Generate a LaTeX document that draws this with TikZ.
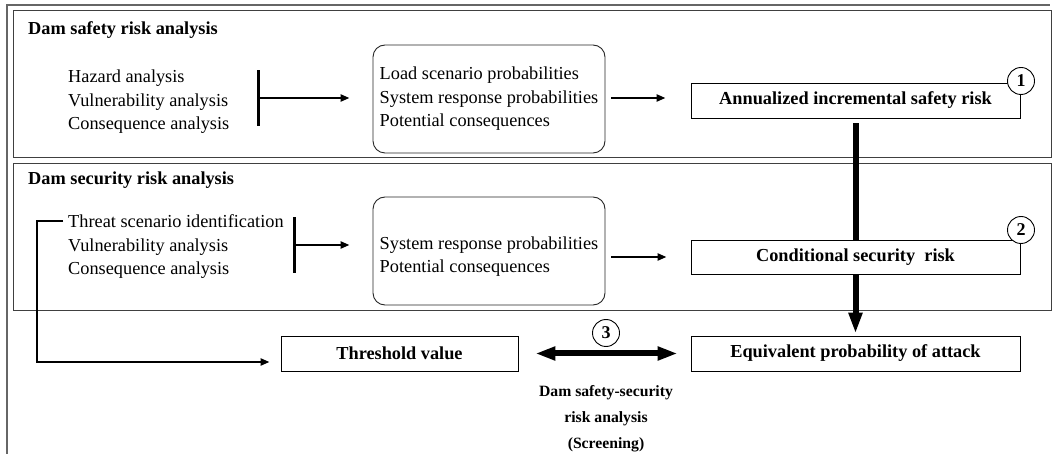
\documentclass[tikz,border=0pt]{standalone}
\usepackage{fontspec}
\setmainfont{Liberation Serif}
\usetikzlibrary{arrows.meta,calc}

\tikzset{
  txt/.style={inner sep=0pt, align=left, font=\fontsize{18.3}{23.5}\selectfont},
  title/.style={inner sep=0pt, anchor=base west, font=\fontsize{18.3}{22}\selectfont\bfseries},
  rbox/.style={draw=black!85, line width=0.9pt, rounded corners=12pt, align=left,
    minimum width=232pt, minimum height=108pt, inner sep=0pt,
    font=\fontsize{18.3}{23.5}\selectfont},
  rbx/.style={draw=black, line width=0.9pt, inner sep=0pt,
    font=\fontsize{18.3}{22}\selectfont\bfseries},
  num/.style={draw=black, line width=0.9pt, fill=white, circle, inner sep=0pt,
    minimum size=27pt, font=\fontsize{18}{20}\selectfont\bfseries},
  bar/.style={fill=black, inner sep=0pt, minimum width=3pt},
  arr/.style={line width=2.4pt, -{Triangle[length=9pt,width=7pt]}},
  thick arr/.style={line width=6pt, -{Triangle[length=21pt,width=13pt]}},
  dbl arr/.style={line width=6pt, {Triangle[length=20pt,width=13pt]}-{Triangle[length=20pt,width=13pt]}},
  frame/.style={draw=black!75, line width=1pt}
}

\begin{document}
\begin{tikzpicture}[x=1pt,y=-1pt]
\useasboundingbox (0,0) rectangle (1053,454);

% outer frame (top and left edges)
\draw[line width=1.6pt, black!60] (7,454) -- (7,5) -- (1050,5);

% section frames
\draw[frame] (13,11) rectangle (1051,158);
\draw[frame] (13,164) rectangle (1051,311);

% ---- safety section (multi-line nodes are anchored on their last baseline)
\node[title] (st) at (28,34.5) {Dam safety risk analysis};
\node[txt, anchor=base west] (slist) at (68,130)
  {Hazard analysis\\Vulnerability analysis\\Consequence analysis};
\node[bar, minimum height=56pt] (sbar) at (258,98) {};
\node[rbox] (lsp) at (489,99)
  {Load scenario probabilities\\System response probabilities\\Potential consequences};
\node[rbx, minimum width=329pt, minimum height=35pt] (ann) at (855.5,100.5)
  {Annualized incremental safety risk};
\node[num] (c1) at (1021,81) {1};

\draw[arr, shorten >=23pt] (sbar.center) -- (sbar.center -| lsp.west);
\draw[arr, shorten <=6pt, shorten >=25pt] (lsp.east |- sbar.center) -- (ann.west |- sbar.center);

% ---- security section
\node[title] (xt) at (28,185) {Dam security risk analysis};
\node[txt, anchor=base west] (xlist) at (68,275)
  {Threat scenario identification\\Vulnerability analysis\\Consequence analysis};
\node[bar, minimum height=56pt] (xbar) at (294,245) {};
\node[rbox] (rsp) at (489,251)
  {\mbox{}\\System response probabilities\\Potential consequences};
\node[rbx, minimum width=329pt, minimum height=34pt] (cond) at (855.5,257)
  {Conditional security\ \ risk};
\node[num] (c2) at (1021,230) {2};

\draw[arr, shorten >=23pt] (xbar.center) -- (xbar.center -| rsp.west);
\draw[arr, shorten <=6pt, shorten >=24pt] (rsp.east |- cond.west) -- (cond.west);

% ---- screening row
\node[rbx, minimum width=237pt, minimum height=35pt] (thr) at (399.5,353.5) {Threshold value};
\node[rbx, minimum width=329pt, minimum height=35pt] (eq) at (855.5,353.5)
  {Equivalent probability of attack};
\node[num] (c3) at (606,333) {3};
\node[inner sep=0pt, anchor=base, align=center,
      font=\fontsize{15.7}{26}\selectfont\bfseries] (lbl) at (606,449)
  {Dam safety-security\\risk analysis\\(Screening)};

% feedback from threat identification to the threshold
\coordinate (fb) at (37,362);
\coordinate (thrin) at (thr.west |- fb);
\draw[arr, shorten >=11pt] ($(xlist.base west)+(-5,-54)$) -| (fb) -- (thrin);

% risk flow
\draw[line width=6pt, shorten <=5pt] (ann.south) -- (cond.north);
\draw[thick arr, shorten >=2pt] (cond.south) -- (eq.north);
\draw[dbl arr, shorten <=17pt, shorten >=13pt] (thr.east) -- (eq.west);
\end{tikzpicture}
\end{document}
